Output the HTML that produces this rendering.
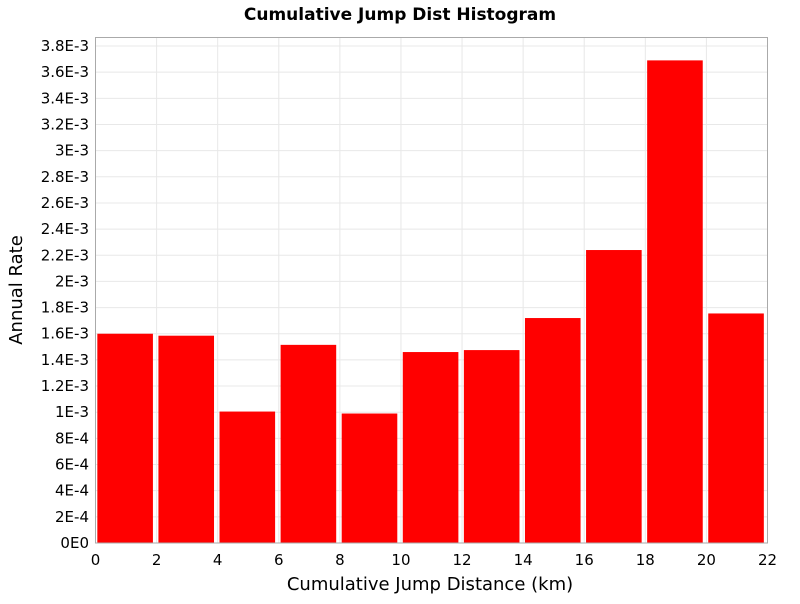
<!DOCTYPE html>
<html><head><meta charset="utf-8"><style>
body{margin:0;background:#fff;font-family:"DejaVu Sans","Liberation Sans",sans-serif}
</style></head><body>
<svg width="800" height="600" xmlns="http://www.w3.org/2000/svg">
<text x="400" y="20" text-anchor="middle" font-size="17" font-weight="bold" font-family="DejaVu Sans, sans-serif">Cumulative Jump Dist Histogram</text>
<g id="grid"></g>
<g id="bars"></g>
<rect x="95.5" y="37.5" width="672" height="505.5" fill="none" stroke="#aaa"/>
<g id="yt" font-size="15" text-anchor="end"></g>
<g id="xt" font-size="15" text-anchor="middle"></g>
<text x="430" y="590" text-anchor="middle" font-size="18">Cumulative Jump Distance (km)</text>
<text transform="translate(22,290) rotate(-90)" text-anchor="middle" font-size="18">Annual Rate</text>
</svg>
<script>
const binStarts=[0,2,4,6,8,10,12,14,16,18,20];
const rates=[1.60e-3,1.585e-3,1.005e-3,1.515e-3,0.99e-3,1.46e-3,1.475e-3,1.72e-3,2.24e-3,3.69e-3,1.755e-3];
const xTicks=[0,2,4,6,8,10,12,14,16,18,20,22];
const yTicks=[0,2e-4,4e-4,6e-4,8e-4,1e-3,1.2e-3,1.4e-3,1.6e-3,1.8e-3,2e-3,2.2e-3,2.4e-3,2.6e-3,2.8e-3,3e-3,3.2e-3,3.4e-3,3.6e-3,3.8e-3];
const yLabels=["0E0","2E-4","4E-4","6E-4","8E-4","1E-3","1.2E-3","1.4E-3","1.6E-3","1.8E-3","2E-3","2.2E-3","2.4E-3","2.6E-3","2.8E-3","3E-3","3.2E-3","3.4E-3","3.6E-3","3.8E-3"];
const NS="http://www.w3.org/2000/svg";
const X=v=>95.5+v*(767.5-95.5)/22;
const Y=v=>543-v*(543-46)/3.8e-3;
function mk(t,a,p){const e=document.createElementNS(NS,t);for(const k in a)e.setAttribute(k,a[k]);p.appendChild(e);return e;}
const grid=document.getElementById('grid'),bars=document.getElementById('bars'),yt=document.getElementById('yt'),xt=document.getElementById('xt');
yTicks.forEach((v,i)=>{
 const l=mk('line',{x1:95.5,x2:767.5,y1:Y(v),y2:Y(v),stroke:'#e8e8e8'},grid);
 
 
 const t=mk('text',{x:89,y:Y(v)+5},yt);t.textContent=yLabels[i];
 
 
});
xTicks.forEach(v=>{
 const l=mk('line',{x1:X(v),x2:X(v),y1:37.5,y2:543,stroke:'#e8e8e8'},grid);
 
 
 const t=mk('text',{x:X(v),y:565},xt);t.textContent=v;
 
 
});
binStarts.forEach((s,i)=>{
 const r=mk('rect',{x:X(s+0.06),width:X(s+1.88)-X(s+0.06),y:Y(rates[i]),height:543-Y(rates[i]),fill:'#ff0000'},bars);
 
 
});
</script>
</body></html>
